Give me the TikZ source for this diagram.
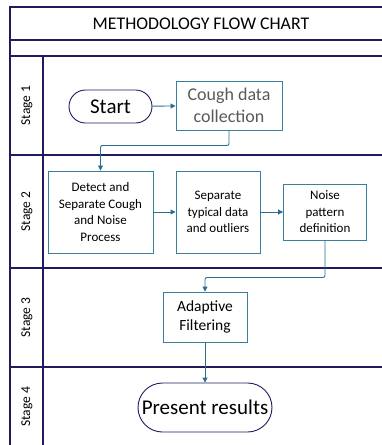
\documentclass[tikz,border=0pt]{standalone}
\usepackage{fontspec}
\setmainfont{Carlito}
\usepackage{xcolor}
\usetikzlibrary{arrows.meta}
\definecolor{lanenavy}{HTML}{1F1B5E}
\definecolor{boxteal}{HTML}{3A7F9E}
\definecolor{flowteal}{HTML}{286E8E}
\definecolor{softgray}{HTML}{595959}

\begin{document}
\begin{tikzpicture}[x=1pt,y=-1pt,
  lane/.style={draw=lanenavy,line width=1.1pt},
  procbox/.style={draw=boxteal,line width=0.9pt,align=center,inner sep=1pt,
    font=\fontsize{13}{16.5}\selectfont},
  terminal/.style={draw=lanenavy,line width=0.9pt,align=center,inner sep=1pt,
    font=\fontsize{21}{24}\selectfont},
  stagelabel/.style={rotate=90,font=\fontsize{13.5}{16}\selectfont},
  flow/.style={draw=flowteal,line width=0.9pt,rounded corners=2pt,
    -{Triangle[length=5pt,width=5pt]}}]
  \useasboundingbox (0,0) rectangle (382,445);

  % Swimlane frame: title band, empty band, four stage lanes.
  \draw[lane] (382,7) -- (10,7) -- (10,445);
  \draw[lane] (10,40) -- (382,40);
  \draw[lane] (10,56) -- (382,56);
  \draw[lane] (43,56) -- (43,445);
  \draw[lane] (10,155) -- (382,155);
  \draw[lane] (10,268) -- (382,268);
  \draw[lane] (10,367) -- (382,367);

  \node (title) at (201,23.5) {\fontsize{17.8}{20}\selectfont METHODOLOGY FLOW CHART};

  \node[stagelabel] (stage1) at (27,105.5) {Stage 1};
  \node[stagelabel] (stage2) at (27,211.5) {Stage 2};
  \node[stagelabel] (stage3) at (27,317.5) {Stage 3};
  \node[stagelabel] (stage4) at (27,407) {Stage 4};

  % Stage 1
  \node[terminal,rounded corners=16.5pt,minimum width=83pt,minimum height=33pt]
    (start) at (110.5,106.5) {Start};
  \node[procbox,text=softgray,font=\fontsize{18}{22}\selectfont,
    minimum width=106pt,minimum height=49pt] (cough) at (229,105.5)
    {Cough data\\collection};

  % Stage 2
  \node[procbox,minimum width=105pt,minimum height=82pt] (detect) at (100.5,212)
    {Detect and\\Separate Cough\\and Noise\\Process};
  \node[procbox,minimum width=84pt,minimum height=82pt] (separate) at (218,212)
    {Separate\\typical data\\and outliers};
  \node[procbox,minimum width=83pt,minimum height=56pt] (noise) at (325,212)
    {Noise\\pattern\\definition};

  % Stage 3
  \node[procbox,font=\fontsize{15.5}{18.5}\selectfont,
    minimum width=84pt,minimum height=50pt] (adaptive) at (205,317)
    {Adaptive\\Filtering};

  % Stage 4
  \node[terminal,rounded corners=24.5pt,minimum width=134pt,minimum height=49pt]
    (present) at (205,407.5) {Present results};

  \draw[flow] (start) -- (cough);
  \draw[flow] (cough.south) -- ++(0,15) -| (detect.north);
  \draw[flow] (detect) -- (separate);
  \draw[flow] (separate) -- (noise);
  \draw[flow] (noise.south) -- ++(0,37) -| (adaptive.north);
  \draw[flow] (adaptive) -- (present);
\end{tikzpicture}
\end{document}
